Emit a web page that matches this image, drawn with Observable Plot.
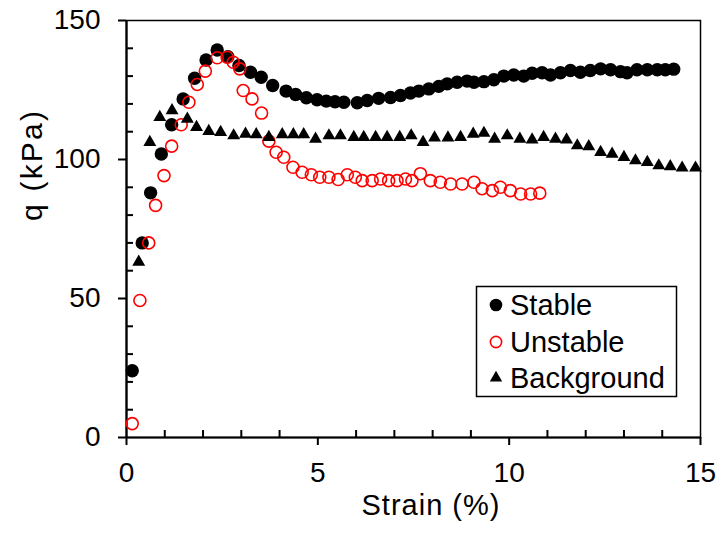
<!DOCTYPE html>
<html><head><meta charset="utf-8">
<script src="https://cdn.jsdelivr.net/npm/d3@7"></script>
<script src="https://cdn.jsdelivr.net/npm/@observablehq/plot@0.6"></script>
<style>
body{margin:0;background:#fff;}
#chart{position:relative;width:720px;height:535px;}
</style>
</head><body><div id="chart"></div>
<script>
// Stable series (black filled circles)
const stableX = [0.15,0.41,0.63,0.91,1.18,1.48,1.78,2.08,2.37,2.65,2.94,3.24,3.52,3.82,4.17,4.42,4.70,4.98,5.22,5.45,5.68,6.03,6.29,6.59,6.90,7.16,7.42,7.64,7.90,8.16,8.38,8.64,8.90,9.08,9.34,9.60,9.86,10.12,10.38,10.60,10.86,11.08,11.34,11.60,11.86,12.12,12.39,12.65,12.91,13.08,13.34,13.61,13.87,14.08,14.30];
const stableY = [24,70,88,102,112.5,121.8,129.2,135.8,139.4,137,133.8,131.4,129.6,126.6,124.6,123.4,122.2,121.5,121,120.8,120.6,120.4,121.2,122,122.3,123,123.9,124.6,125.4,126.3,127.2,127.8,128.2,127.8,128,128.7,130,130.4,130,131,131.2,130.4,131.2,132,131.4,132,132.6,132.3,131.6,131.2,132.3,132.3,132.3,132.3,132.5];

// Unstable series (red open circles)
const unstableX = [0.15,0.35,0.58,0.76,0.98,1.18,1.43,1.63,1.85,2.06,2.37,2.63,2.79,2.96,3.05,3.28,3.53,3.72,3.91,4.11,4.35,4.59,4.83,5.05,5.29,5.53,5.77,5.98,6.16,6.42,6.64,6.85,7.07,7.29,7.46,7.68,7.94,8.20,8.47,8.77,9.08,9.29,9.56,9.77,10.03,10.30,10.56,10.80];
const unstableY = [5,49.3,70,83.5,94.2,104.8,112.5,120.6,127,131.8,136.6,136.8,135,132.6,124.8,121.8,116.7,106.6,102.6,100.8,97.2,95.4,94.5,93.6,93.6,92.8,94.5,93.6,92.4,92.4,93,92.4,92.4,93,92.4,94.9,92.4,91.8,91.2,91.2,91.8,89.5,88.8,90,88.8,87.6,87.6,87.9];

// Background series (black triangles)
const backgroundX = [0.32,0.61,0.87,1.19,1.59,1.83,2.15,2.46,2.80,3.11,3.39,3.72,4.07,4.36,4.63,4.94,5.29,5.59,5.94,6.20,6.51,6.81,7.14,7.44,7.75,8.05,8.40,8.73,9.06,9.34,9.62,9.95,10.28,10.60,10.90,11.21,11.50,11.78,12.08,12.39,12.69,13.00,13.30,13.61,13.91,14.21,14.52,14.87];
const backgroundY = [63.1,106.2,115.2,117.6,114.6,111.6,110.2,109.8,108.6,109.2,109,108,109,109,109,107.4,108.6,108.6,108,108,108,108,108,108.6,106.2,107.8,107.8,108,109.2,109.5,107.4,108.6,107.4,107.1,108,107.4,107.1,105,104.7,102.6,102,100.8,99.6,99,97.8,97.5,97,97];

// Ticks and labels
const xMajorTicks = [0,5,10,15];
const xMinorTicks = [1,2,3,4,6,7,8,9,11,12,13,14];
const yMajorTicks = [0,50,100,150];
const yMinorTicks = [10,20,30,40,60,70,80,90,110,120,130,140];
const xTitle = "Strain (%)";
const yTitle = "q (kPa)";
const seriesNames = ["Stable","Unstable","Background"];

const rows = (xs, ys) => xs.map((x, i) => ({x, y: ys[i]}));
const font = "'Liberation Sans', Arial, sans-serif";

const W = 720, H = 535, mL = 126, mR = 20, mT = 20, mB = 98;
const minorPx = 7;
const yMinorLen = minorPx * 150 / (H - mT - mB);
const xMinorLen = minorPx * 15 / (W - mL - mR);

const chart = Plot.plot({
  width: W, height: H,
  marginLeft: mL, marginRight: mR, marginTop: mT, marginBottom: mB,
  style: {fontFamily: font, fontSize: "28px", color: "#000", background: "#fff", overflow: "visible"},
  x: {domain: [0, 15]},
  y: {domain: [0, 150]},
  marks: [
    Plot.frame({stroke: "#000", strokeWidth: 1.5}),
    Plot.ruleX(xMinorTicks, {x: d => d, y1: 0, y2: yMinorLen, stroke: "#000", strokeWidth: 2}),
    Plot.ruleY(yMinorTicks, {y: d => d, x1: 0, x2: xMinorLen, stroke: "#000", strokeWidth: 2}),
    Plot.axisX({ticks: xMajorTicks, tickSize: 8, tickPadding: 17, label: null, tickFormat: d => String(d), fontSize: 28, strokeWidth: 2}),
    Plot.axisY({ticks: yMajorTicks, tickSize: 8, tickPadding: 18, label: null, tickFormat: d => String(d), fontSize: 28, strokeWidth: 2}),
    Plot.ruleX([0], {stroke: "#000", strokeWidth: 2.2}),
    Plot.ruleY([0], {stroke: "#000", strokeWidth: 2.2}),
    Plot.dot(rows(stableX, stableY), {x: "x", y: "y", r: 6.7, fill: "#000", stroke: "none"}),
    Plot.dot(rows(unstableX, unstableY), {x: "x", y: "y", r: 6, fill: "none", stroke: "#ff0000", strokeWidth: 1.6}),
    Plot.dot(rows(backgroundX, backgroundY), {x: "x", y: "y", r: 4.8, symbol: "triangle", fill: "#000", stroke: "none"}),
    Plot.text([xTitle], {text: d => d, frameAnchor: "bottom", dx: 17, dy: 77, fontSize: 29, fill: "#000", className: "xtitle"}),
    Plot.text([yTitle], {text: d => d, frameAnchor: "left", dx: -94, dy: -8, rotate: -90, fontSize: 30, fill: "#000", className: "ytitle"})
  ]
});

const svg = d3.select(chart);
// match the reference's axis-title lengths
svg.selectAll(".xtitle text").attr("textLength", 138).attr("lengthAdjust", "spacing");
svg.selectAll(".ytitle text").attr("textLength", 110).attr("lengthAdjust", "spacing");

// Legend box inside the plot area
const lg = svg.append("g").attr("font-family", font).attr("font-size", 29).attr("text-anchor", "start");
lg.append("rect").attr("x", 476.5).attr("y", 286.5).attr("width", 200).attr("height", 110)
  .attr("fill", "#fff").attr("stroke", "#000").attr("stroke-width", 1.5);
const rowY = [305, 342, 378];
const sym = [
  g => g.append("circle").attr("r", 6.3).attr("fill", "#000"),
  g => g.append("circle").attr("r", 5.6).attr("fill", "none").attr("stroke", "#ff0000").attr("stroke-width", 1.6),
  g => g.append("path").attr("d", d3.symbol(d3.symbolTriangle, 4.6 * 4.6 * Math.PI)()).attr("fill", "#000")
];
seriesNames.forEach((name, i) => {
  const g = lg.append("g").attr("transform", `translate(496,${rowY[i]})`);
  sym[i](g);
  lg.append("text").attr("x", 510).attr("y", rowY[i]).attr("dy", "0.36em").attr("fill", "#000").text(name);
});

document.getElementById("chart").appendChild(chart);
</script>
</body></html>
